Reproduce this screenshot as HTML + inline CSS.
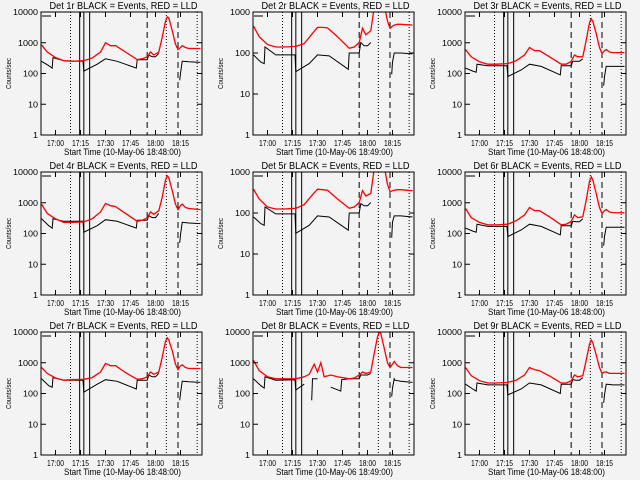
<!DOCTYPE html>
<html><head><meta charset="utf-8"><style>
html,body{margin:0;padding:0;background:#f3f3f3;}
svg{display:block;font-family:"Liberation Sans",sans-serif;}
</style></head><body>
<svg id="chart" width="640" height="480" viewBox="0 0 640 480"></svg>
<script>
const tickLabels = ["17:00","17:15","17:30","17:45","18:00","18:15"];
const tickTimes = [0,15,30,45,60,75];
const solidLines = [14.5,17,20.5];
const dottedLines = [9,66.5,85];
const dashedLines = [55,73.5];
const tR = [-8.4,-5,0,5,10,17,22,27,30,33,36,42,49,52,55,57,59,62,64,66,67,68,70,72,73.5,75,76,78,80,87];
const tR8 = [-8.4,-5,0,5,10,17,22,25,28,30,32,34,38,42,49,52,55,57,59,62,64,66,67,68,70,72,73.5,75,76,78,80,87];
const tB = [-8.4,-4,-2,-1.5,5,16.5,17,25,30,37,48.5,49,55,56,58,60,62,62.1,74.5,75,76,76.5,80,87];
const tB8 = [-8.4,-4,-2,-1.5,5,16.5,17,22,22.1,26.5,27,27.5,30,30.1,38,44,44.5,49,55,56,60,62,62.1,74.5,75,76,76.5,80,87];
const red1 = [850,500,330,260,250,260,320,500,1000,800,800,500,280,300,350,500,400,500,1500,5000,7000,6500,2500,900,600,700,800,700,650,650];
const red2 = [450,250,160,140,140,145,170,300,420,420,410,250,130,140,180,400,280,350,1300,5000,7000,5000,1500,600,400,450,480,500,500,480];
const red3 = [600,350,240,200,200,210,260,400,700,550,550,350,200,200,250,400,350,350,1200,4500,6000,5000,2000,700,450,550,600,500,480,480];
const red4 = [900,450,300,230,230,240,300,500,950,800,750,450,250,270,320,500,420,550,1500,5500,7500,6500,2500,900,600,800,900,700,650,600];
const red5 = [380,220,140,125,125,130,160,280,380,370,360,220,130,140,180,350,260,300,1200,4000,6000,4000,1400,500,330,350,360,370,370,350];
const red6 = [650,330,230,190,190,200,260,400,700,550,550,350,190,200,250,400,330,350,1200,5000,7000,5500,2000,700,450,550,600,500,480,470];
const red7 = [700,450,320,270,280,290,330,500,950,800,800,480,290,300,350,500,420,500,1500,5000,6500,5500,2500,900,600,800,850,700,650,650];
const red8 = [1200,550,350,300,300,300,350,420,900,500,1000,350,400,350,300,320,400,500,450,500,2000,7000,10000,9000,3000,1000,700,900,1100,800,700,700];
const red9 = [700,380,260,220,220,230,270,400,700,600,550,370,220,220,260,400,350,380,1200,4000,5500,4500,1800,700,450,500,500,450,450,450];
const blk1 = [250,180,150,330,260,250,120,200,300,250,150,280,280,400,350,350,450,null,60,100,250,250,240,230];
const blk2 = [90,60,55,140,90,90,35,55,90,85,40,100,100,180,150,150,180,null,30,60,100,100,100,95];
const blk3 = [150,120,110,200,180,180,80,130,200,170,90,180,180,250,250,250,300,null,40,80,170,170,170,170];
const blk4 = [300,180,150,300,250,250,110,180,280,250,150,270,270,380,330,330,450,null,50,90,230,230,220,210];
const blk5 = [80,55,50,140,95,95,32,50,85,80,38,100,100,170,150,150,180,null,25,60,85,85,85,80];
const blk6 = [150,120,110,200,170,170,80,130,200,170,90,180,180,250,240,240,300,null,40,80,160,160,160,160];
const blk7 = [300,180,160,330,270,270,110,200,280,250,140,270,270,400,350,350,450,null,60,100,250,250,240,230];
const blk8 = [300,180,150,350,270,280,130,200,null,60,300,300,300,null,160,120,280,300,300,400,400,450,null,80,150,300,270,250,230];
const blk9 = [200,140,120,220,190,190,90,140,220,190,100,200,200,280,270,270,330,null,50,90,200,200,190,190];

const panels = [
 {n:1,rt:tR,r:red1,bt:tB,b:blk1,dec:4,st:"18:48:00"},
 {n:2,rt:tR,r:red2,bt:tB,b:blk2,dec:3,st:"18:49:00"},
 {n:3,rt:tR,r:red3,bt:tB,b:blk3,dec:4,st:"18:48:00"},
 {n:4,rt:tR,r:red4,bt:tB,b:blk4,dec:4,st:"18:48:00"},
 {n:5,rt:tR,r:red5,bt:tB,b:blk5,dec:3,st:"18:49:00"},
 {n:6,rt:tR,r:red6,bt:tB,b:blk6,dec:4,st:"18:48:00"},
 {n:7,rt:tR,r:red7,bt:tB,b:blk7,dec:4,st:"18:48:00"},
 {n:8,rt:tR8,r:red8,bt:tB8,b:blk8,dec:4,st:"18:49:00"},
 {n:9,rt:tR,r:red9,bt:tB,b:blk9,dec:4,st:"18:48:00"}
];
const NS="http://www.w3.org/2000/svg";
const svg=document.getElementById('chart');
function mk(tag,attrs,parent){const e=document.createElementNS(NS,tag);for(const k in attrs)e.setAttribute(k,attrs[k]);(parent||svg).appendChild(e);return e;}
const lefts=[41,253,465], tops=[12,172,332], W=161, H=123, T0=-8.7, T1=87.9;
panels.forEach((p,i)=>{
  const L=lefts[i%3], T=tops[Math.floor(i/3)], B=T+H, R=L+W;
  const xs=t=>L+(t-T0)/(T1-T0)*W;
  const ys=v=>B-Math.log10(v)/p.dec*H;
  const g=mk('g',{});
  
  
  const cp=mk('clipPath',{id:'c'+i},g);mk('rect',{x:L,y:T,width:W,height:H},cp);
  const title=mk('text',{x:(L+R)/2+2,y:T-3,'text-anchor':'middle','font-size':'10',textLength:'148',lengthAdjust:'spacingAndGlyphs'},g);
  title.textContent='Det '+p.n+'r BLACK = Events, RED = LLD';
  
  
  const vl=mk('g',{'clip-path':'url(#c'+i+')',stroke:'#000','stroke-width':1},g);
  
  
  solidLines.forEach(t=>mk('line',{x1:xs(t),x2:xs(t),y1:T,y2:B},vl));
  dottedLines.forEach(t=>mk('line',{x1:xs(t),x2:xs(t),y1:T,y2:B,'stroke-dasharray':'1,2'},vl));
  dashedLines.forEach(t=>mk('line',{x1:xs(t),x2:xs(t),y1:T,y2:B,'stroke-dasharray':'6,4'},vl));
  mk('line',{x1:L+1,x2:L+10,y1:T+4,y2:T+4},vl);
  function path(ts,vs){let d='',pen=false;ts.forEach((t,k)=>{const v=vs[k];if(v==null){pen=false;return;}d+=(pen?'L':'M')+xs(t).toFixed(1)+','+ys(v).toFixed(1);pen=true;});return d;}
  const bl=mk('path',{d:path(p.bt,p.b),fill:'none',stroke:'#000','stroke-width':1,'clip-path':'url(#c'+i+')'},g);
  
  
  const rl=mk('path',{d:path(p.rt,p.r),fill:'none',stroke:'#ff0000','stroke-width':1.3,'clip-path':'url(#c'+i+')'},g);
  
  
  const fr=mk('rect',{x:L,y:T,width:W,height:H,fill:'none',stroke:'#000','stroke-width':1},g);
  
  
  for(let d=0;d<=p.dec;d++){
    const y=B-d/p.dec*H;
    mk('line',{x1:L,x2:L+5,y1:y,y2:y,stroke:'#000'},g);
    mk('line',{x1:R-5,x2:R,y1:y,y2:y,stroke:'#000'},g);
    const s=String(Math.pow(10,d));
    const tl=mk('text',{x:L-3,y:y+3,'text-anchor':'end','font-size':'8',textLength:String(s.length*5),lengthAdjust:'spacingAndGlyphs'},g);
    tl.textContent=s;
    
    
  }
  tickTimes.forEach((t,k)=>{
    const x=xs(t);
    mk('line',{x1:x,x2:x,y1:B,y2:B-5,stroke:'#000'},g);
    mk('line',{x1:x,x2:x,y1:T,y2:T+5,stroke:'#000'},g);
    const tl=mk('text',{x:x,y:B+11,'text-anchor':'middle','font-size':'8',textLength:'17',lengthAdjust:'spacingAndGlyphs'},g);
    tl.textContent=tickLabels[k];
    
    
  });
  const xt=mk('text',{x:(L+R)/2+1,y:B+20,'text-anchor':'middle','font-size':'9',textLength:'117',lengthAdjust:'spacingAndGlyphs'},g);
  xt.textContent='Start Time (10-May-06 '+p.st+')';
  
  
  const yt=mk('text',{x:0,y:0,'text-anchor':'middle','font-size':'7',textLength:'31',lengthAdjust:'spacingAndGlyphs',transform:'translate('+(L-30)+','+((T+B)/2)+') rotate(-90)'},g);
  yt.textContent='Counts/sec';
  
  
});
</script>
</body></html>
